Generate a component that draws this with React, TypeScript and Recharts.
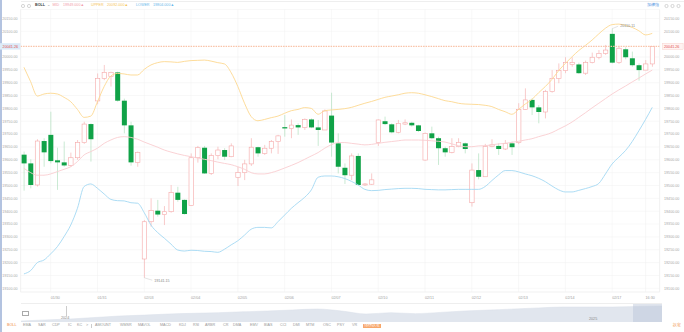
import React from 'react'
import {
  ComposedChart, Bar, Line, XAxis, YAxis, CartesianGrid, ReferenceLine, ReferenceDot,
  AreaChart, Area,
} from 'recharts'

// hourly candles
const opens = [
  19620, 19586, 19502, 19673, 19697, 19598, 19590, 19578, 19608, 19667, 19739,
  19829, 19917, 19924, 19940, 19830, 19734, 19590,
  19214, 19359, 19402, 19387, 19398, 19472, 19444,
  19422, 19608, 19647, 19547, 19616, 19638, 19612,
  19532, 19550, 19584, 19649, 19625, 19645, 19671,
  19727, 19722, 19735, 19726, 19757, 19726, 19716,
  19772, 19664, 19569, 19540, 19615, 19502, 19505,
  19667, 19750, 19738, 19707, 19739, 19744, 19734,
  19599, 19703, 19684, 19645, 19629, 19651, 19664,
  19433, 19560, 19534, 19651, 19654, 19642, 19664,
  19667, 19796, 19833, 19804, 19786, 19865, 19917,
  19947, 19971, 19971, 19937, 19978, 19999, 20014,
  20090, 19978, 20030, 19995, 19968, 19949, 19973,
]
const highs = [
  19632, 19602, 19680, 19684, 19787, 19647, 19671, 19628, 19677, 19748, 19742,
  19936, 19969, 19943, 19943, 19838, 19748, 19632,
  19365, 19450, 19444, 19420, 19502, 19495, 19446,
  19625, 19654, 19654, 19625, 19651, 19645, 19664,
  19573, 19600, 19684, 19651, 19658, 19677, 19697,
  19774, 19757, 19742, 19761, 19761, 19755, 19796,
  19861, 19703, 19586, 19625, 19625, 19509, 19547,
  19757, 19768, 19742, 19755, 19757, 19748, 19736,
  19706, 19729, 19690, 19651, 19684, 19684, 19667,
  19586, 19625, 19662, 19680, 19664, 19677, 19671,
  19820, 19878, 19839, 19813, 19872, 19949, 19975,
  19999, 19999, 19978, 19986, 20017, 20027, 20047,
  20110.11, 20040, 20038, 20021, 19975, 19988, 20041.26,
]
const lows = [
  19480, 19489, 19496, 19573, 19586, 19483, 19573, 19573, 19600, 19662, 19593,
  19816, 19910, 19885, 19826, 19703, 19577, 19573,
  19141.15, 19340, 19379, 19346, 19394, 19437, 19387,
  19420, 19589, 19545, 19541, 19602, 19599, 19610,
  19498, 19521, 19576, 19612, 19619, 19625, 19623,
  19690, 19684, 19697, 19716, 19723, 19654, 19716,
  19612, 19547, 19506, 19521, 19499, 19498, 19502,
  19654, 19735, 19703, 19703, 19735, 19729, 19708,
  19597, 19680, 19580, 19612, 19625, 19649, 19625,
  19418, 19524, 19534, 19649, 19619, 19638, 19619,
  19661, 19794, 19774, 19742, 19761, 19861, 19898,
  19937, 19962, 19934, 19930, 19975, 19991, 20008,
  19975, 19973, 19991, 19962, 19908, 19949, 19962,
]
const closes = [
  19586, 19502, 19673, 19629, 19595, 19590, 19578, 19608, 19667, 19739, 19680,
  19917, 19940, 19940, 19830, 19734, 19590, 19628,
  19359, 19402, 19387, 19398, 19472, 19444, 19389,
  19608, 19647, 19547, 19616, 19638, 19612, 19654,
  19550, 19584, 19649, 19625, 19645, 19671, 19693,
  19722, 19735, 19726, 19757, 19726, 19716, 19790,
  19667, 19573, 19540, 19615, 19502, 19506, 19522,
  19755, 19739, 19707, 19742, 19744, 19734, 19712,
  19703, 19684, 19645, 19629, 19651, 19667, 19642,
  19560, 19534, 19651, 19658, 19642, 19664, 19649,
  19796, 19833, 19804, 19786, 19865, 19917, 19947,
  19978, 19978, 19937, 19978, 19999, 20014, 20027,
  19978, 20034, 19999, 19968, 19949, 19973, 20041.26,
]

// BOLL(20,2) as plotted
const bollMid = [
  19567, 19550, 19540, 19540, 19545, 19554, 19563, 19573, 19593, 19619, 19632,
  19645, 19664, 19677, 19687, 19690, 19687, 19680,
  19669, 19659, 19649, 19638, 19630, 19623, 19617,
  19612, 19607, 19602, 19597, 19591, 19586, 19581,
  19573, 19563, 19550, 19545, 19545, 19550, 19558,
  19568, 19578, 19589, 19602, 19615, 19628, 19645,
  19659, 19667, 19667, 19664, 19661, 19658, 19660,
  19664, 19668, 19671, 19674, 19677, 19677, 19677,
  19676, 19674, 19672, 19669, 19662, 19655, 19651,
  19651, 19654, 19655, 19658, 19662, 19664, 19668,
  19672, 19677, 19682, 19690, 19697, 19706, 19719,
  19732, 19747, 19765, 19783, 19802, 19820, 19838,
  19856, 19872, 19887, 19903, 19918, 19934, 19949,
]
const bollUpper = [
  19960, 19904, 19848, 19856, 19859, 19856, 19843, 19826, 19796, 19765, 19770,
  19826, 19885, 19926, 19936, 19934, 19930, 19930,
  19952, 19969, 19978, 19982, 19981, 19979, 19983,
  19986, 19987, 19988, 19984, 19978, 19973, 19939,
  19885, 19820, 19768, 19752, 19757, 19764, 19770,
  19781, 19791, 19796, 19803, 19800, 19777, 19791,
  19794, 19796, 19799, 19804, 19812, 19820, 19827,
  19835, 19843, 19848, 19853, 19859, 19861, 19859,
  19853, 19846, 19838, 19830, 19826, 19820, 19817,
  19816, 19815, 19812, 19807, 19796, 19787, 19777,
  19796, 19817, 19835, 19861, 19885, 19913, 19947,
  19975, 20001, 20025, 20045, 20066, 20090, 20112,
  20126, 20128, 20123, 20115, 20102, 20086, 20092,
]
const bollLower = [
  19156, 19169, 19200, 19210, 19234, 19262, 19301, 19346, 19411, 19496, 19506,
  19489, 19467, 19446, 19441, 19440, 19433, 19431,
  19394, 19346, 19317, 19295, 19272, 19249, 19245,
  19248, 19247, 19244, 19243, 19240, 19252, 19269,
  19285, 19307, 19330, 19337, 19337, 19335, 19359,
  19385, 19411, 19433, 19454, 19483, 19532, 19537,
  19537, 19534, 19527, 19516, 19502, 19485, 19480,
  19481, 19484, 19486, 19488, 19489, 19489, 19488,
  19485, 19484, 19483, 19483, 19484, 19485, 19485,
  19485, 19485, 19496, 19519, 19541, 19558, 19558,
  19553, 19545, 19538, 19528, 19515, 19498, 19483,
  19475, 19475, 19481, 19488, 19496, 19508, 19545,
  19584, 19610, 19636, 19671, 19713, 19757, 19804,
]

const tickIndex = [4, 11, 18, 25, 32, 39, 46, 53, 60, 67, 74, 81, 88, 93]
const tickLabels = ['01/30', '01/31', '02/03', '02/04', '02/05', '02/06', '02/07', '02/10', '02/11', '02/12', '02/13', '02/14', '02/17', '16:30']
const priceTicks = [
  19100, 19150, 19200, 19250, 19300, 19350, 19400, 19450, 19500, 19550, 19600,
  19650, 19700, 19750, 19800, 19850, 19900, 19950, 20000, 20100, 20150,
]

// overview strip at the bottom
const navValues = [15333, 15700, 16000, 16500, 17000, 17300, 17667, 17900, 18100, 18400, 18667, 19000, 19333, 18667, 17667, 18100, 17767, 18200, 18667, 19000, 19333, 19700, 20000, 20000, 20000, 20167, 20333]
const navYears = ['2024', '2025']

const indicatorTabs = [
  ['BOLL', 7], ['EMA', 23], ['SAR', 38], ['CDP', 52], ['IC', 68], ['KC', 77], ['>', 86],
  ['AMOUNT', 95], ['WMSR', 120], ['MAVOL', 138], ['MACD', 160], ['KDJ', 179], ['RSI', 193],
  ['ARBR', 205], ['CR', 223], ['DMA', 233], ['EMV', 250], ['BIAS', 264], ['CCI', 280],
  ['DMI', 293], ['MTM', 306], ['OSC', 323], ['PSY', 337], ['VR', 352],
] as const

const FONT = '"Liberation Sans", Arial, sans-serif'
const FS = 3.7
const Y_MIN = 19085.6
const Y_MAX = 20184.8
const last = closes[closes.length - 1]

const Candle = (props: any) => {
  const { x, y, width, height, payload } = props
  const lo = payload.range[0]
  const hi = payload.range[1]
  const top = Math.min(y, y + height)
  const h = Math.abs(height)
  const k = h / (hi - lo)
  const yOf = (v: number) => top + (hi - v) * k
  const cx = x + width / 2
  const up = payload.c >= payload.o
  const bTop = yOf(Math.max(payload.o, payload.c))
  const bBot = yOf(Math.min(payload.o, payload.c))
  const bh = Math.max(bBot - bTop, 0.6)
  if (up) {
    return (
      <g>
        <line x1={cx} x2={cx} y1={top} y2={bTop} stroke="#f5a7a7" strokeWidth={0.6} />
        <line x1={cx} x2={cx} y1={bTop + bh} y2={top + h} stroke="#f5a7a7" strokeWidth={0.6} />
        <rect x={x + 0.3} y={bTop} width={width - 0.6} height={bh} fill="#fff" stroke="#f5a7a7" strokeWidth={0.6} />
      </g>
    )
  }
  return (
    <g>
      <line x1={cx} x2={cx} y1={top} y2={top + h} stroke="#a6dcb6" strokeWidth={0.6} />
      <rect x={x} y={bTop} width={width} height={bh} fill="#10a247" />
    </g>
  )
}

const PriceTag = (props: any) => {
  const { x, y, width } = props.viewBox
  const txt = last.toFixed(2)
  return (
    <g fontFamily={FONT} fontSize={FS}>
      <rect x={0} y={y - 3.2} width={x} height={6.4} fill="#dcebf8" />
      <text x={x - 2.6} y={y + 1.3} textAnchor="end" fill="#e2504c">{txt}</text>
      <rect x={x + width + 3} y={y - 3.2} width={20.5} height={6.4} fill="#fff3f2" stroke="#f6c9c4" strokeWidth={0.4} />
      <text x={x + width + 4.4} y={y + 1.3} fill="#e2504c">{txt}</text>
    </g>
  )
}

const ExtremeMark = ({ cx, cy, text, dx, dy }: any) => (
  <g fontFamily={FONT} fontSize={FS}>
    <line x1={cx} y1={cy} x2={cx + dx} y2={cy + dy} stroke="#bbb" strokeWidth={0.4} />
    <text x={cx + dx + 2} y={cy + dy + 1.3} fill="#888">{text}</text>
  </g>
)

export default function App() {
  const rows = opens.map((o, i) => ({
    i,
    o,
    c: closes[i],
    range: [lows[i], highs[i]],
    mid: bollMid[i],
    upper: bollUpper[i],
    lower: bollLower[i],
  }))
  const navRows = navValues.map((v, i) => ({ i, v }))
  const hiIdx = highs.indexOf(Math.max(...highs))
  const loIdx = lows.indexOf(Math.min(...lows))

  const span = (text: string, x: number, color: string, extra: React.CSSProperties = {}) => (
    <span key={text + x} style={{ position: 'absolute', left: x, top: 0, color, whiteSpace: 'nowrap', ...extra }}>{text}</span>
  )

  return (
    <div style={{ position: 'fixed', left: 0, top: 0, width: 684, height: 332, background: '#fff', fontFamily: FONT, fontSize: FS, lineHeight: 1, overflow: 'hidden' }}>
      <div style={{ position: 'absolute', left: 0, top: 0, width: 1.5, height: 332, background: '#b3c3e0' }} />
      <div style={{ position: 'absolute', left: 20.6, top: 1, width: 663, height: 0.5, background: '#eee' }} />

      <ComposedChart width={684} height={302} data={rows} margin={{ top: 9.5, right: 0, bottom: 0, left: 0 }}>
        <CartesianGrid stroke="#f1f1f1" strokeWidth={0.5} />
        <XAxis
          dataKey="i"
          type="category"
          ticks={tickIndex}
          interval={0}
          tickFormatter={(v: number) => tickLabels[tickIndex.indexOf(v)]}
          tick={{ fontSize: FS, fill: '#a0a0a0', textAnchor: 'start' }}
          tickLine={false}
          tickSize={0}
          tickMargin={4}
          axisLine={{ stroke: '#eee', strokeWidth: 0.5 }}
          height={10}
          padding={{ left: 0, right: 4 }}
        />
        <YAxis
          orientation="left"
          width={20.6}
          domain={[Y_MIN, Y_MAX]}
          allowDataOverflow
          ticks={priceTicks}
          interval={0}
          tickFormatter={(v: number) => v.toFixed(2)}
          tick={{ fontSize: FS, fill: '#a8a8a8' }}
          tickLine={false}
          tickSize={0}
          tickMargin={3}
          axisLine={{ stroke: '#eee', strokeWidth: 0.5 }}
        />
        <YAxis
          yAxisId="r"
          orientation="right"
          width={24.4}
          domain={[Y_MIN, Y_MAX]}
          allowDataOverflow
          ticks={priceTicks}
          interval={0}
          tickFormatter={(v: number) => v.toFixed(2)}
          tick={{ fontSize: FS, fill: '#a8a8a8' }}
          tickLine={false}
          tickSize={0}
          tickMargin={4.4}
          axisLine={{ stroke: '#eee', strokeWidth: 0.5 }}
        />
        <Line type="monotone" dataKey="mid" stroke="#f9cdd0" strokeWidth={0.9} dot={false} isAnimationActive={false} />
        <Line type="monotone" dataKey="upper" stroke="#fdd890" strokeWidth={0.9} dot={false} isAnimationActive={false} />
        <Line type="monotone" dataKey="lower" stroke="#a3d8f3" strokeWidth={0.9} dot={false} isAnimationActive={false} />
        <Bar dataKey="range" barSize={5} shape={Candle} isAnimationActive={false} />
        <ReferenceLine y={last} stroke="#f9c3a8" strokeWidth={1.2} strokeDasharray="1.5 1" label={PriceTag} />
        <ReferenceDot x={hiIdx} y={highs[hiIdx]} r={0} shape={(p: any) => <ExtremeMark {...p} text={highs[hiIdx].toFixed(2)} dx={6} dy={-2.5} />} />
        <ReferenceDot x={loIdx} y={lows[loIdx]} r={0} shape={(p: any) => <ExtremeMark {...p} text={lows[loIdx].toFixed(2)} dx={8} dy={2.5} />} />
      </ComposedChart>

      {/* header */}
      <div style={{ position: 'absolute', left: 0, top: 3.6, width: 684, height: 5 }}>
        <svg width={40} height={5} style={{ position: 'absolute', left: 20, top: 0 }}>
          <circle cx={3} cy={2} r={1.6} fill="none" stroke="#999" strokeWidth={0.4} />
          <circle cx={9} cy={2} r={1.6} fill="none" stroke="#999" strokeWidth={0.4} />
        </svg>
        {span('BOLL', 35, '#444', { fontWeight: 'bold' })}
        {span('⌄', 47, '#999')}
        {span('MID', 52.5, '#f2a0ab')}
        {span(bollMid[bollMid.length - 1].toFixed(3) + '▲', 63, '#f2a0ab')}
        {span('UPPER', 91, '#f5c55a')}
        {span(bollUpper[bollUpper.length - 1].toFixed(3) + '▲', 107, '#f5c55a')}
        {span('LOWER', 136, '#6ab8ea')}
        {span(bollLower[bollLower.length - 1].toFixed(3) + '▲', 153, '#6ab8ea')}
        {span('加權指', 647, '#4b8fe0')}
        <svg width={20} height={5} style={{ position: 'absolute', left: 664, top: 0 }}>
          <circle cx={2.5} cy={2} r={1.6} fill="none" stroke="#999" strokeWidth={0.4} />
          <circle cx={8.5} cy={2} r={1.6} fill="none" stroke="#999" strokeWidth={0.4} />
          <circle cx={14.5} cy={2} r={1.6} fill="none" stroke="#999" strokeWidth={0.4} />
        </svg>
      </div>

      {/* overview strip */}
      <div style={{ position: 'absolute', left: 21, top: 303, width: 641, height: 18, borderTop: '0.5px solid #eee' }}>
        <AreaChart width={641} height={18} data={navRows} margin={{ top: 0, right: 0, bottom: 0, left: 0 }}>
          <XAxis dataKey="i" hide />
          <YAxis hide domain={[15000, 21000]} />
          <Area type="monotone" dataKey="v" stroke="#d8dee8" strokeWidth={0.5} fill="#e1e6ee" fillOpacity={1} isAnimationActive={false} />
        </AreaChart>
        <div style={{ position: 'absolute', left: 612, top: 0, width: 29, height: 18, background: 'rgba(185,196,216,0.45)' }} />
        <div style={{ position: 'absolute', left: 1, top: 6.5, width: 4.5, height: 3.5, border: '0.4px solid #aaa' }} />
        <div style={{ position: 'absolute', left: 44.5, top: 2, width: 0.4, height: 10, background: '#ccc' }} />
        <span style={{ position: 'absolute', left: 40, top: 12.5, color: '#888' }}>{navYears[0]}</span>
        <span style={{ position: 'absolute', left: 568, top: 13.5, color: '#888' }}>{navYears[1]}</span>
      </div>

      {/* indicator tabs */}
      <div style={{ position: 'absolute', left: 0, top: 324.2, width: 684, height: 5 }}>
        {indicatorTabs.map(([t, x]) => span(t, x, t === 'BOLL' ? '#f0883a' : '#999'))}
        <span style={{ position: 'absolute', left: 91, top: 0, width: 0.4, height: 4, background: '#ccc' }} />
        {span('指標設定', 363, '#fff', { background: '#f7a66a', padding: '0 1px' })}
        {span('設定', 673, '#f0883a')}
      </div>
    </div>
  )
}
